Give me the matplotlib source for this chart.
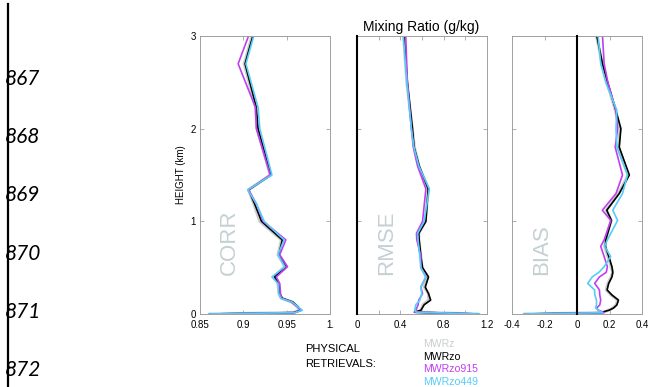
import matplotlib
matplotlib.use('Agg')
import matplotlib.pyplot as plt

plt.rcParams['font.family'] = ['Liberation Sans', 'DejaVu Sans']

# series names / colours
names = ['MWRz', 'MWRzo', 'MWRzo915', 'MWRzo449']
colors = ['#c9cfcf', '#000000', '#bf3ff0', '#55cdf8']

# CORR panel
h_corr = [0, 0.015, 0.04, 0.08, 0.13, 0.17, 0.22, 0.33, 0.40, 0.51, 0.64, 0.80,
          1.0, 1.19, 1.34, 1.5, 2.0, 2.23, 2.70, 3.0]
corr_z = [0.862, 0.957, 0.965, 0.962, 0.956, 0.944, 0.941, 0.940, 0.935, 0.948, 0.940, 0.944,
          0.919, 0.912, 0.906, 0.931, 0.916, 0.914, 0.901, 0.910]
corr_zo = [0.861, 0.958, 0.966, 0.963, 0.957, 0.945, 0.942, 0.941, 0.936, 0.949, 0.941, 0.945,
           0.921, 0.913, 0.906, 0.932, 0.917, 0.915, 0.902, 0.911]
corr_915 = [0.861, 0.960, 0.967, 0.962, 0.955, 0.944, 0.943, 0.942, 0.938, 0.951, 0.942, 0.949,
            0.923, 0.915, 0.906, 0.931, 0.915, 0.914, 0.894, 0.906]
corr_449 = [0.860, 0.959, 0.968, 0.963, 0.956, 0.943, 0.941, 0.940, 0.933, 0.948, 0.940, 0.947,
            0.924, 0.915, 0.905, 0.933, 0.919, 0.917, 0.903, 0.912]

# RMSE panel
h_rmse = [0, 0.02, 0.04, 0.10, 0.15, 0.22, 0.29, 0.40, 0.50, 0.62, 0.80, 0.87, 1.0, 1.35,
          1.6, 1.8, 2.0, 2.5, 3.0]
rmse_z = [1.11, 0.54, 0.59, 0.61, 0.66, 0.66, 0.62, 0.65, 0.60, 0.59, 0.57, 0.57, 0.63, 0.66,
          0.57, 0.53, 0.51, 0.46, 0.43]
rmse_zo = [1.12, 0.53, 0.59, 0.62, 0.68, 0.66, 0.63, 0.66, 0.605, 0.59, 0.574, 0.57, 0.636, 0.657,
           0.574, 0.527, 0.512, 0.465, 0.434]
rmse_915 = [1.12, 0.53, 0.543, 0.564, 0.57, 0.605, 0.589, 0.636, 0.589, 0.59, 0.552, 0.549, 0.605,
            0.636, 0.558, 0.52, 0.502, 0.465, 0.45]
rmse_449 = [1.13, 0.55, 0.533, 0.543, 0.58, 0.598, 0.589, 0.636, 0.589, 0.58, 0.564, 0.56, 0.62,
            0.667, 0.57, 0.525, 0.502, 0.46, 0.428]

# BIAS panel
h_bias = [0, 0.014, 0.043, 0.065, 0.097, 0.15, 0.205, 0.26, 0.33, 0.40, 0.45, 0.51, 0.62,
          0.73, 0.80, 1.01, 1.12, 1.30, 1.50, 1.80, 2.00, 2.20, 2.50, 2.70, 3.00]
bias_z = [-0.32, 0.15, 0.20, 0.22, 0.24, 0.25, 0.21, 0.18, 0.19, 0.21, 0.22, 0.21, 0.19,
          0.17, 0.175, 0.21, 0.18, 0.255, 0.315, 0.255, 0.265, 0.235, 0.185, 0.155, 0.12]
bias_zo = [-0.32, 0.146, 0.20, 0.225, 0.245, 0.255, 0.215, 0.185, 0.195, 0.215, 0.22, 0.215, 0.196,
           0.175, 0.177, 0.212, 0.183, 0.26, 0.322, 0.26, 0.270, 0.239, 0.188, 0.157, 0.122]
bias_915 = [-0.32, 0.167, 0.13, 0.121, 0.14, 0.146, 0.14, 0.138, 0.109, 0.138, 0.18, 0.187, 0.167,
            0.146, 0.167, 0.208, 0.156, 0.24, 0.28, 0.235, 0.25, 0.239, 0.19, 0.167, 0.157]
bias_449 = [-0.33, 0.157, 0.13, 0.115, 0.12, 0.12, 0.11, 0.108, 0.066, 0.094, 0.135, 0.167, 0.207,
            0.17, 0.187, 0.25, 0.22, 0.28, 0.311, 0.245, 0.24, 0.245, 0.177, 0.146, 0.13]

line_nums = ['867', '868', '869', '870', '871', '872']

panels = [
    ('CORR', h_corr, [corr_z, corr_zo, corr_915, corr_449], (0.85, 1.0),
     [0.85, 0.9, 0.95, 1.0], ['0.85', '0.9', '0.95', '1.']),
    ('RMSE', h_rmse, [rmse_z, rmse_zo, rmse_915, rmse_449], (0, 1.2),
     [0, 0.2, 0.4, 0.6, 0.8, 1.0, 1.2], ['0', '', '0.4', '', '0.8', '', '1.2']),
    ('BIAS', h_bias, [bias_z, bias_zo, bias_915, bias_449], (-0.4, 0.4),
     [-0.4, -0.2, 0, 0.2, 0.4], ['-0.4', '-0.2', '0', '0.2', '0.4']),
]

W, H = 648, 387
fig = plt.figure(figsize=(W / 100, H / 100), dpi=100)
lefts = [200, 357, 512]
spine = '#a0a0a0'

for i, (lab, hh, series, xl, xt, xtl) in enumerate(panels):
    ax = fig.add_axes([lefts[i] / W, 1 - 314 / H, 130 / W, 278 / H])
    if i > 0:
        ax.axvline(0, color='k', lw=1.5, zorder=3, clip_on=False)
    for vals, c, lw in zip(series, colors, [2.2, 1.2, 1.2, 1.2]):
        ax.plot(vals, hh, color=c, lw=lw, zorder=2)
    ax.set_xlim(xl)
    ax.set_ylim(0, 3)
    ax.set_xticks(xt)
    ax.set_xticklabels(xtl)
    ax.set_yticks([0, 1, 2, 3])
    if i == 0:
        ax.set_ylabel('HEIGHT (km)', fontsize=7, labelpad=3)
    else:
        ax.set_yticklabels([])
    ax.tick_params(direction='in', top=True, right=True, length=3, width=0.6,
                   color=spine, labelsize=7)
    ax.tick_params(axis='x', pad=4)
    ax.tick_params(axis='y', pad=3)
    for s in ax.spines.values():
        s.set_color(spine)
        s.set_linewidth(0.7)
    ax.text(0.225, 0.14, lab, transform=ax.transAxes, rotation=90, ha='center',
            va='bottom', fontsize=16, color='#c5d0d3')

fig.text(421 / W, 1 - 27 / H, 'Mixing Ratio (g/kg)', ha='center', va='center', fontsize=10)

# legend block
fig.text(305 / W, 1 - 349 / H, 'PHYSICAL', ha='left', va='center', fontsize=8)
fig.text(305 / W, 1 - 364 / H, 'RETRIEVALS:', ha='left', va='center', fontsize=8)
for k, (n, c) in enumerate(zip(names, colors)):
    fig.text(423 / W, 1 - (344 + 12.7 * k) / H, n, ha='left', va='center', fontsize=7.6, color=c)

# page line numbers
fig.add_artist(plt.Line2D([7.5 / W, 7.5 / W], [0, 1 - 4 / H], color='k', lw=1.6))
for k, t in enumerate(line_nums):
    fig.text(5 / W, 1 - (79 + 58.2 * k) / H, t, ha='left', va='center', fontsize=15,
             style='italic', family='Lato')

plt.savefig('out.png', dpi=100)
